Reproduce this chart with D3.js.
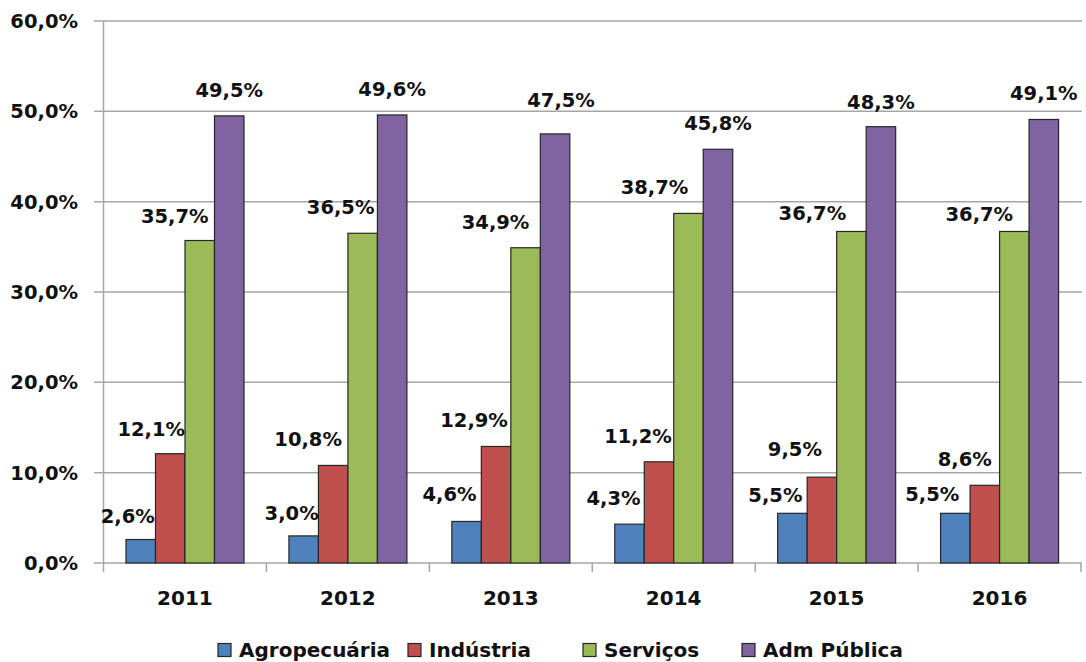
<!DOCTYPE html>
<html>
<head>
<meta charset="utf-8">
<script src="https://cdn.jsdelivr.net/npm/d3@7"></script>
<style>
  html, body { margin: 0; padding: 0; background: #fff; }
  svg { display: block; font-family: "DejaVu Sans", Verdana, sans-serif; }
</style>
</head>
<body>
<svg id="chart" width="1086" height="662"></svg>
<script>
// ---- data ----
const years = ["2011", "2012", "2013", "2014", "2015", "2016"];
const seriesNames = ["Agropecuária", "Indústria", "Serviços", "Adm Pública"];
const agropecuaria = [2.6, 3.0, 4.6, 4.3, 5.5, 5.5];
const industria = [12.1, 10.8, 12.9, 11.2, 9.5, 8.6];
const servicos = [35.7, 36.5, 34.9, 38.7, 36.7, 36.7];
const admPublica = [49.5, 49.6, 47.5, 45.8, 48.3, 49.1];
const yTicks = [0, 10, 20, 30, 40, 50, 60];

// ---- styling / layout (not data) ----
const colors = ["#4F81BD", "#C0504D", "#9BBB59", "#8064A2"];
// label placement offsets per series, per year: [dx from bar centre, gap above bar top]
const labelDx = [
  [-13, -12, -17, -16, -17, -23],
  [-19, -25, -22, -21, -27, -20],
  [-25, -22, -30, -34, -39, -35],
  [0, 0, 6, 0, 0, 0]
];
const labelGap = [
  [17, 16, 20, 19, 11, 12],
  [18, 19, 19, 19, 21, 19],
  [18, 19, 19, 19, 11, 10],
  [19, 19, 27, 19, 18, 19]
];

const seriesValues = [agropecuaria, industria, servicos, admPublica];

const locale = d3.formatLocale({ decimal: ",", thousands: ".", grouping: [3], currency: ["R$", ""] });
const fmt = v => locale.format(".1f")(v) + "%";

const svg = d3.select("#chart");
const plotLeft = 103.5, plotRight = 1081, plotTop = 21, plotBottom = 563;

const x0 = d3.scaleBand().domain(years).range([plotLeft, plotRight]).paddingInner(0).paddingOuter(0);
const x1 = d3.scaleBand().domain(seriesNames).range([22.5, 140.5]).padding(0);
const y = d3.scaleLinear().domain([0, 60]).range([plotBottom, plotTop]);

// gridlines
svg.append("g").selectAll("line").data(yTicks).join("line")
  .attr("x1", 94).attr("x2", 1082)
  .attr("y1", d => y(d)).attr("y2", d => y(d))
  .attr("stroke", "#a6a6a6").attr("stroke-width", 1.5);

// y axis line
svg.append("line").attr("x1", plotLeft).attr("x2", plotLeft).attr("y1", plotTop).attr("y2", plotBottom)
  .attr("stroke", "#a6a6a6").attr("stroke-width", 1.5);

// x category ticks
const boundaries = years.map(yv => x0(yv)).concat([x0(years[years.length - 1]) + x0.bandwidth()]);
svg.append("g").selectAll("line").data(boundaries).join("line")
  .attr("x1", d => d).attr("x2", d => d)
  .attr("y1", plotBottom).attr("y2", plotBottom + 9)
  .attr("stroke", "#a6a6a6").attr("stroke-width", 1.5);

// y tick labels
svg.append("g").selectAll("text").data(yTicks).join("text")
  .attr("x", 78).attr("y", d => y(d)).attr("dy", "0.36em")
  .attr("text-anchor", "end")
  .attr("font-size", 19.5).attr("font-weight", "bold").attr("fill", "#111")
  .text(d => fmt(d));

// year labels
svg.append("g").selectAll("text").data(years).join("text")
  .attr("x", d => x0(d) + x0.bandwidth() / 2).attr("y", 605)
  .attr("text-anchor", "middle")
  .attr("font-size", 20).attr("font-weight", "bold").attr("fill", "#111")
  .text(d => d);

// bars
const flat = [];
seriesValues.forEach((vals, si) => {
  vals.forEach((v, yi) => flat.push({ si, yi, year: years[yi], series: seriesNames[si], v }));
});

svg.append("g").selectAll("rect").data(flat).join("rect")
  .attr("x", d => x0(d.year) + x1(d.series))
  .attr("width", x1.bandwidth())
  .attr("y", d => y(d.v))
  .attr("height", d => y(0) - y(d.v))
  .attr("fill", d => colors[d.si])
  .attr("stroke", "#262626").attr("stroke-width", 1.2);

// value labels
svg.append("g").selectAll("text").data(flat).join("text")
  .attr("x", d => x0(d.year) + x1(d.series) + x1.bandwidth() / 2 + labelDx[d.si][d.yi])
  .attr("y", d => y(d.v) - labelGap[d.si][d.yi])
  .attr("text-anchor", "middle")
  .attr("font-size", 19.5).attr("font-weight", "bold").attr("fill", "#111")
  .text(d => fmt(d.v));

// legend
const legendX = [218, 408, 583, 742];
const lg = svg.append("g").selectAll("g").data(seriesNames).join("g")
  .attr("transform", (d, i) => `translate(${legendX[i]},0)`);
lg.append("rect").attr("x", 0).attr("y", 643.5).attr("width", 13).attr("height", 13)
  .attr("fill", (d, i) => colors[i]).attr("stroke", "#262626").attr("stroke-width", 1.2);
lg.append("text").attr("x", 21).attr("y", 657)
  .attr("font-size", 20).attr("font-weight", "bold").attr("fill", "#111")
  .text(d => d);
</script>
</body>
</html>
